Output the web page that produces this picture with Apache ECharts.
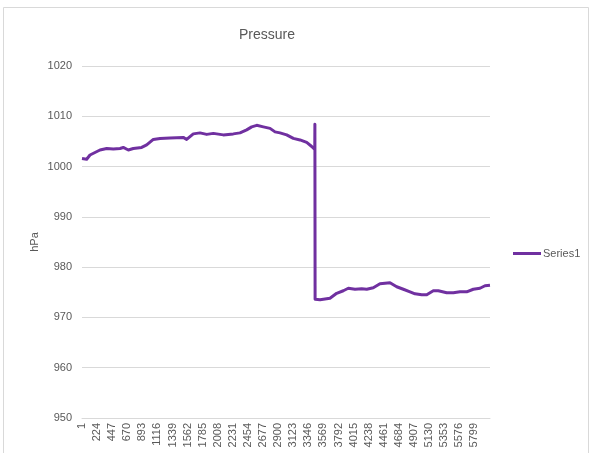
<!DOCTYPE html>
<html>
<head>
<meta charset="utf-8">
<script src="https://cdn.jsdelivr.net/npm/echarts@6/dist/echarts.min.js"></script>
<style>
html,body{margin:0;padding:0;background:#fff;}
#chart{width:591px;height:453px;}
</style>
</head>
<body>
<div id="chart"></div>
<script>
// Sample index (0-based position in the series) and pressure
const sampleIndex = [0, 69, 118, 192, 266, 365, 463, 562, 610, 684, 758, 882, 956, 1054, 1153, 1301, 1497, 1547, 1645, 1744, 1843, 1941, 2088, 2236, 2335, 2434, 2508, 2582, 2680, 2779, 2853, 2926, 3025, 3123, 3222, 3321, 3395, 3440, 3442, 3445,
  3518, 3665, 3764, 3862, 3936, 4035, 4134, 4208, 4305, 4404, 4478, 4552, 4651, 4749, 4848, 4922, 5021, 5095, 5192, 5266, 5390, 5488, 5587, 5686, 5783, 5882, 5956, 6030];
const pressure = [1001.6, 1001.45, 1002.3, 1002.8, 1003.3, 1003.6, 1003.5, 1003.6, 1003.8, 1003.3, 1003.6, 1003.8, 1004.3, 1005.4, 1005.6, 1005.7, 1005.8, 1005.4, 1006.5, 1006.7, 1006.4, 1006.6, 1006.3, 1006.5, 1006.7, 1007.3, 1007.9, 1008.2, 1007.9, 1007.6, 1006.9, 1006.7, 1006.3, 1005.6, 1005.3, 1004.8, 1004.0, 1003.4, 1008.4, 973.6,
  973.5, 973.8, 974.8, 975.3, 975.8, 975.6, 975.7, 975.6, 975.9, 976.7, 976.8, 976.9, 976.1, 975.6, 975.1, 974.7, 974.5, 974.5, 975.3, 975.3, 974.9, 974.9, 975.1, 975.1, 975.6, 975.8, 976.3, 976.4];
const xTickLabels = ['1','224','447','670','893','1116','1339','1562','1785','2008','2231','2454','2677','2900','3123','3346','3569','3792','4015','4238','4461','4684','4907','5130','5353','5576','5799'];
const seriesName = 'Series1';
const chartTitle = 'Pressure';
const yName = 'hPa';

const data = sampleIndex.map((x, i) => [x, pressure[i]]);
const textColor = '#595959';
const gridColor = '#d9d9d9';
const font = 'Liberation Sans, Arial, sans-serif';

const chart = echarts.init(document.getElementById('chart'), null, {renderer: 'canvas'});
chart.setOption({
  animation: false,
  backgroundColor: '#fff',
  graphic: [{
    type: 'rect',
    shape: {x: 3.5, y: 7.5, width: 585, height: 460},
    style: {fill: 'none', stroke: gridColor, lineWidth: 1},
    silent: true
  }],
  title: {
    text: chartTitle,
    left: 262, top: 23, textAlign: 'center',
    textStyle: {fontFamily: font, fontSize: 14, fontWeight: 'normal', color: textColor}
  },
  legend: {
    data: [{name: seriesName, icon: 'rect'}],
    left: 508, top: 243, itemWidth: 28, itemHeight: 3,
    textStyle: {fontFamily: font, fontSize: 11, color: textColor, padding: [0,0,0,-3]}
  },
  grid: {left: 82, right: 101, top: 66, bottom: 35, containLabel: false},
  xAxis: {
    type: 'value', min: 0, max: 6030, interval: 223,
    axisLine: {show: true, lineStyle: {color: gridColor, width: 1}},
    axisTick: {show: false},
    splitLine: {show: false},
    axisLabel: {
      rotate: 90, margin: 5, fontFamily: font, fontSize: 11, color: textColor,
      showMaxLabel: false,
      formatter: v => xTickLabels[Math.round(v / 223)] || ''
    }
  },
  yAxis: {
    type: 'value', min: 950, max: 1020, interval: 10,
    name: yName, nameLocation: 'middle', nameGap: 42, nameRotate: 90,
    nameMoveOverlap: false,
    nameTextStyle: {fontFamily: font, fontSize: 11, color: textColor},
    axisLine: {show: false}, axisTick: {show: false},
    splitLine: {lineStyle: {color: gridColor, width: 1}},
    axisLabel: {margin: 10, fontFamily: font, fontSize: 11, color: textColor, formatter: v => String(v)}
  },
  series: [{
    name: seriesName, type: 'line', data: data,
    showSymbol: false, symbol: 'none',
    lineStyle: {color: '#7030A0', width: 3, join: 'round'},
    itemStyle: {color: '#7030A0'}
  }]
});
</script>
</body>
</html>
